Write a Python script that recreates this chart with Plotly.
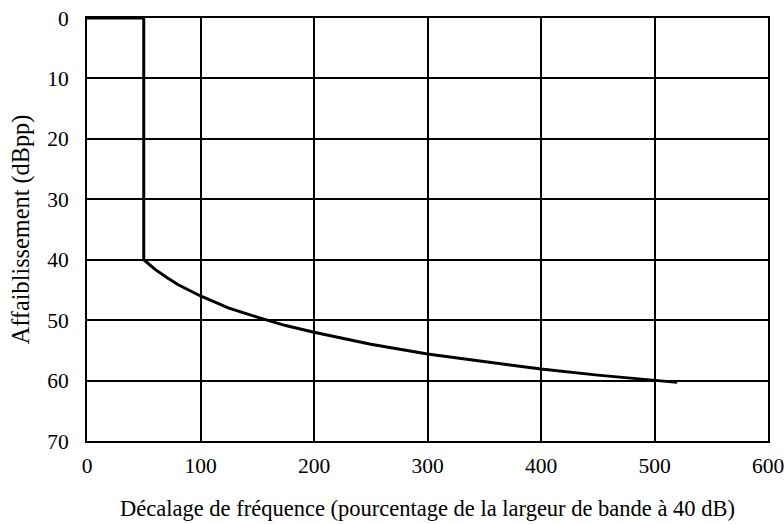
import plotly.graph_objects as go

# Mask data (frequency offset %, attenuation dBpp)
x_vals = [0, 50, 50, 60, 70, 80, 100, 125, 150, 175, 200, 250, 300, 350, 400, 450, 500, 520]
y_vals = [0, 0, 40, 41.6, 42.9, 44.1, 46.0, 48.0, 49.5, 50.9, 52.0, 54.0, 55.6, 56.9, 58.1, 59.1, 60.0, 60.3]

x_ticks = [0, 100, 200, 300, 400, 500, 600]
y_ticks = [0, 10, 20, 30, 40, 50, 60, 70]

x_title = "Décalage de fréquence (pourcentage de la largeur de bande à 40 dB)"
y_title = "Affaiblissement (dBpp)"

fam = "Liberation Serif, Times New Roman, serif"
tick_font = dict(family=fam, size=21.5, color="black")
x_title_font = dict(family=fam, size=22.5, color="black")
y_title_font = dict(family=fam, size=24.3, color="black")

fig = go.Figure()
fig.add_trace(go.Scatter(x=x_vals, y=y_vals, mode="lines",
                         line=dict(color="black", width=3), showlegend=False,
                         hoverinfo="skip"))

fig.update_layout(
    width=784, height=524,
    margin=dict(l=87, r=16, t=18, b=83),
    paper_bgcolor="white", plot_bgcolor="white",
    font=tick_font,
)
fig.update_xaxes(range=[0, 600], tickvals=x_ticks, ticktext=[str(v) for v in x_ticks],
                 showgrid=True, gridcolor="black", gridwidth=1.5,
                 showline=True, linecolor="black", linewidth=2, mirror=True,
                 zeroline=False, ticks="", ticklen=0, automargin=False,
                 ticklabelstandoff=4, ticklabeloverflow="allow",
                 title=dict(text=x_title, standoff=23, font=x_title_font),
                 tickfont=tick_font)
fig.update_yaxes(range=[70, 0], tickvals=y_ticks, ticktext=[str(v) for v in y_ticks],
                 showgrid=True, gridcolor="black", gridwidth=1.5,
                 showline=True, linecolor="black", linewidth=2, mirror=True,
                 zeroline=False, ticks="", ticklen=0, automargin=False,
                 ticklabelstandoff=12, ticklabeloverflow="allow",
                 title=dict(text=y_title, standoff=11, font=y_title_font),
                 tickfont=tick_font)

fig.write_html("out.html", config={"displayModeBar": False},
               post_script="document.body.style.margin='0';")
